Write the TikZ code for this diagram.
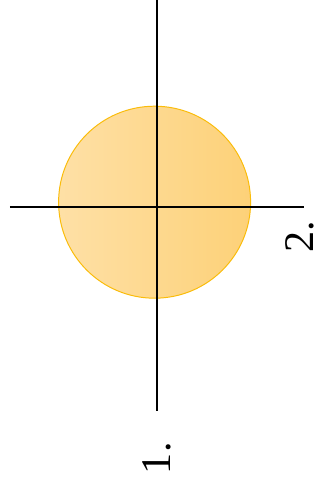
\documentclass[tikz,border=0pt]{standalone}
\usepackage{fontspec}
\usepackage{tikz}
\newfontfamily\labelfont{Liberation Serif}
\tikzset{every path/.style={semithick}}
\definecolor{discleft}{RGB}{254,224,166}
\definecolor{discright}{RGB}{253,209,120}
\definecolor{discline}{RGB}{250,188,10}
\tikzset{axis/.style={line width=1pt},
  axlabel/.style={rotate=90,font=\labelfont\fontsize{30}{36}\selectfont,inner sep=0pt}}

\begin{document}
\begin{tikzpicture}
    \useasboundingbox (-3.925,-6.9) rectangle (4.075,5.175);
    \shade[left color=discleft,right color=discright,draw=discline,line width=0.7pt]
      (-0.06,0.12) circle (2.4);

    \coordinate (top) at (0,5.175);
    \coordinate (bottom) at (0,-5.1);
    \coordinate (left) at (-3.675,0);
    \coordinate (right) at (3.675,0);
    \draw[axis] (top) -- (bottom);
    \draw[axis] (left) -- (right);

    \node[axlabel] (one) at (0,-6.28) {1.};
    \node[axlabel] (two) at (3.58,-0.75) {2.};
  \end{tikzpicture}
\end{document}
